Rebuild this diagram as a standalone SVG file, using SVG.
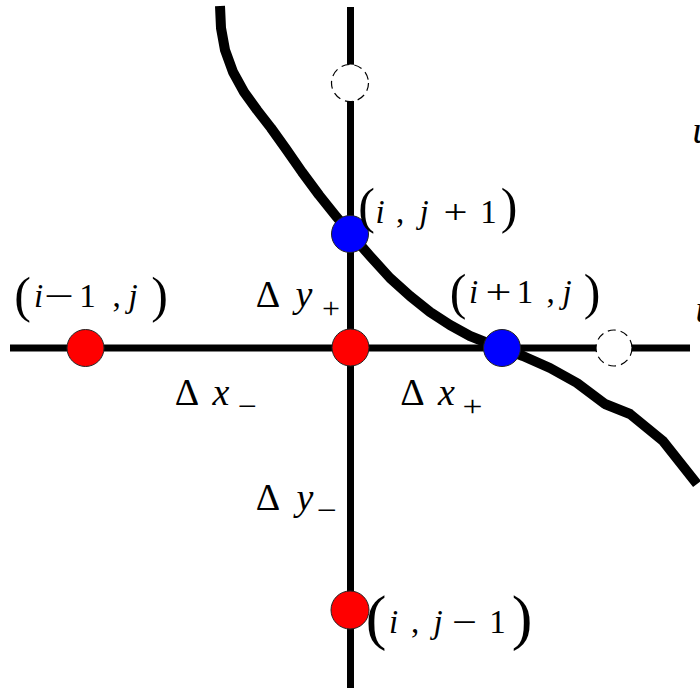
<svg xmlns="http://www.w3.org/2000/svg" width="700" height="688" viewBox="0 0 700 688">
<style>
.ax{stroke:#000;stroke-width:7;fill:none}
.cv{stroke:#000;stroke-width:10;fill:none;stroke-linejoin:round;stroke-linecap:butt}
.red{fill:#ff0000;stroke:#222;stroke-width:1}
.blue{fill:#0000ff;stroke:#222;stroke-width:1}
.ghost{fill:#fff;stroke:#000;stroke-width:1.2;stroke-dasharray:8 5}
text{font-family:'Liberation Serif','Times New Roman',serif;fill:#000;text-anchor:middle}
.it{font-style:italic}
.lb{font-size:33px}
.pa{font-size:50px;font-weight:300}
.dl{font-size:38px}
.sb{font-size:30px}
</style>
<rect width="700" height="688" fill="#fff"/>
<g id="connectors">
<line class="ax" x1="10" y1="348" x2="690" y2="348"/>
<line class="ax" x1="350.5" y1="7" x2="350.5" y2="688"/>
<polyline class="cv" points="220,6 221,28 225,50 233,72 244,92 257,110 271,128 286,149 302,172 319,195 335,215 350,233 370,256 390,278 410,296 430,312 450,325 470,336 490,344 502,348 523,356 550,368 577,383 605,404 630,414 663,441 697,484"/>
</g>
<g id="node-top-ghost"><circle class="ghost" cx="350" cy="83" r="18.5"/></g>
<g id="node-right-ghost"><circle class="ghost" cx="614" cy="348" r="18"/></g>
<g id="node-center"><circle class="red" cx="350.5" cy="347.5" r="18.5"/></g>
<g id="node-left"><circle class="red" cx="85.5" cy="348" r="18.5"/>
<text class="pa" x="22.5" y="312">(</text>
<text class="lb it" x="38.5" y="307">i</text>
<text class="lb" x="59" y="307" textLength="30" lengthAdjust="spacingAndGlyphs">−</text>
<text class="lb" x="87.5" y="307">1</text>
<text class="lb" x="116.5" y="307">,</text>
<text class="lb it" x="133" y="307">j</text>
<text class="pa" x="159.5" y="312">)</text>
</g>
<g id="node-top"><circle class="blue" cx="350" cy="234" r="18.5"/>
<text class="pa" x="366.5" y="223">(</text>
<text class="lb it" x="380" y="223">i</text>
<text class="lb" x="400" y="223">,</text>
<text class="lb it" x="424" y="223">j</text>
<text class="lb" x="455.5" y="223" textLength="24" lengthAdjust="spacingAndGlyphs">+</text>
<text class="lb" x="488.5" y="223">1</text>
<text class="pa" x="509" y="223">)</text>
</g>
<g id="node-right"><circle class="blue" cx="502" cy="348" r="18.5"/>
<text class="pa" x="458" y="309">(</text>
<text class="lb it" x="473.5" y="303">i</text>
<text class="lb" x="498.5" y="303" textLength="26" lengthAdjust="spacingAndGlyphs">+</text>
<text class="lb" x="525" y="303">1</text>
<text class="lb" x="550.5" y="303">,</text>
<text class="lb it" x="567" y="303">j</text>
<text class="pa" x="592" y="309">)</text>
</g>
<g id="node-bottom"><circle class="red" cx="350" cy="610" r="19"/>
<text class="pa" x="376" y="638" style="font-size:62px">(</text>
<text class="lb it" x="393.5" y="633">i</text>
<text class="lb" x="415" y="633">,</text>
<text class="lb it" x="438" y="633">j</text>
<text class="lb" x="464.5" y="633" textLength="25" lengthAdjust="spacingAndGlyphs">−</text>
<text class="lb" x="497.5" y="633">1</text>
<text class="pa" x="522" y="638" style="font-size:62px">)</text>
</g>
<g id="labels">
<text class="dl" x="268" y="307">Δ</text>
<text class="dl it" x="304" y="307">y</text>
<text class="sb" x="331" y="318" textLength="18" lengthAdjust="spacingAndGlyphs">+</text>
<text class="dl" x="187" y="405">Δ</text>
<text class="dl it" x="221" y="405">x</text>
<text class="sb" x="247.5" y="416" textLength="19" lengthAdjust="spacingAndGlyphs">−</text>
<text class="dl" x="412.5" y="405">Δ</text>
<text class="dl it" x="446.5" y="405">x</text>
<text class="sb" x="472.5" y="416" textLength="20" lengthAdjust="spacingAndGlyphs">+</text>
<text class="dl" x="268" y="510">Δ</text>
<text class="dl it" x="305" y="510">y</text>
<text class="sb" x="327" y="520" textLength="20" lengthAdjust="spacingAndGlyphs">−</text>
<text class="dl it" x="702" y="143">u</text>
<text class="dl it" x="705" y="322">u</text>
</g>
</svg>
